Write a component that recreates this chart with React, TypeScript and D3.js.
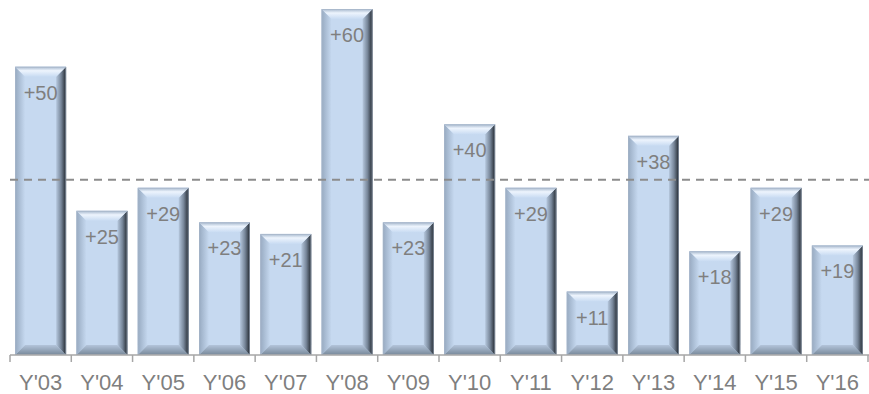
import React, { useEffect } from "react";
import * as d3 from "d3";

const categories = ["Y'03", "Y'04", "Y'05", "Y'06", "Y'07", "Y'08", "Y'09", "Y'10", "Y'11", "Y'12", "Y'13", "Y'14", "Y'15", "Y'16"];
const values = [50, 25, 29, 23, 21, 60, 23, 40, 29, 11, 38, 18, 29, 19];
const referenceValue = 30.4;

const W = 869;
const H = 394;

export default function App() {
  useEffect(() => {
    document.body.style.margin = "0";
  }, []);

  const x = d3
    .scaleBand<string>()
    .domain(categories)
    .range([10, 868])
    .paddingInner(0.168)
    .paddingOuter(0.084);
  const y = d3.scaleLinear().domain([0, 60]).range([355, 9]);
  const step = x.step();
  const b = 10;
  const font = "'Liberation Sans', Arial, sans-serif";
  const textColor = "#7f7f7f";
  const pts = (arr: number[][]) => arr.map((p) => p.join(",")).join(" ");

  return (
    <svg width={W} height={H} style={{ position: "absolute", left: 0, top: 0, display: "block" }}>
      <defs>
        <linearGradient id="gTop" x1="0" y1="0" x2="0" y2="1">
          <stop offset="0" stopColor="#a4b6cc" />
          <stop offset="0.4" stopColor="#edf4fd" />
          <stop offset="1" stopColor="#c8dbf2" />
        </linearGradient>
        <linearGradient id="gRight" x1="0" y1="0" x2="1" y2="0">
          <stop offset="0" stopColor="#b6c8de" />
          <stop offset="0.5" stopColor="#778699" />
          <stop offset="1" stopColor="#20262d" />
        </linearGradient>
        <linearGradient id="gLeft" x1="1" y1="0" x2="0" y2="0">
          <stop offset="0" stopColor="#c6d9f0" />
          <stop offset="1" stopColor="#97aac1" />
        </linearGradient>
        <linearGradient id="gBottom" x1="0" y1="0" x2="0" y2="1">
          <stop offset="0" stopColor="#b3c4da" />
          <stop offset="1" stopColor="#778899" />
        </linearGradient>
      </defs>

      {categories.map((c, i) => {
        const x0 = x(c)!;
        const x1 = x0 + x.bandwidth();
        const y0 = y(values[i]);
        const y1 = y(0);
        return (
          <g key={c}>
            <rect x={x0} y={y0} width={x1 - x0} height={y1 - y0} fill="#c6d9f0" />
            <polygon points={pts([[x0, y0], [x0 + b, y0 + b], [x0 + b, y1 - b], [x0, y1]])} fill="url(#gLeft)" />
            <polygon points={pts([[x0, y1], [x1, y1], [x1 - b, y1 - b], [x0 + b, y1 - b]])} fill="url(#gBottom)" />
            <polygon points={pts([[x1, y0], [x1, y1], [x1 - b, y1 - b], [x1 - b, y0 + b]])} fill="url(#gRight)" />
            <polygon points={pts([[x0, y0], [x1, y0], [x1 - b, y0 + b], [x0 + b, y0 + b]])} fill="url(#gTop)" />
            <rect x={x0 + 0.5} y={y0 + 0.5} width={x1 - x0 - 1} height={y1 - y0 - 1} fill="none" stroke="#a8b6c8" strokeWidth={1} opacity={0.6} />
            <text
              x={x0 + x.bandwidth() / 2}
              y={y0 + 33}
              textAnchor="middle"
              fontFamily={font}
              fontSize={20}
              fill={textColor}
            >
              {"+" + values[i]}
            </text>
          </g>
        );
      })}

      <line
        x1={10}
        x2={W}
        y1={y(referenceValue)}
        y2={y(referenceValue)}
        stroke="#8c8c8c"
        strokeWidth={2}
        strokeDasharray="8,6"
      />

      <line x1={10} x2={W} y1={y(0)} y2={y(0)} stroke="#a6a6a6" strokeWidth={1.5} />
      {d3.range(categories.length + 1).map((i) => {
        const tx = 10 + i * step;
        return <line key={i} x1={tx} x2={tx} y1={y(0)} y2={y(0) + 7} stroke="#a6a6a6" strokeWidth={1.5} />;
      })}
      {categories.map((c) => (
        <text
          key={c}
          x={x(c)! + x.bandwidth() / 2}
          y={390}
          textAnchor="middle"
          fontFamily={font}
          fontSize={22}
          fill={textColor}
        >
          {c}
        </text>
      ))}
    </svg>
  );
}
